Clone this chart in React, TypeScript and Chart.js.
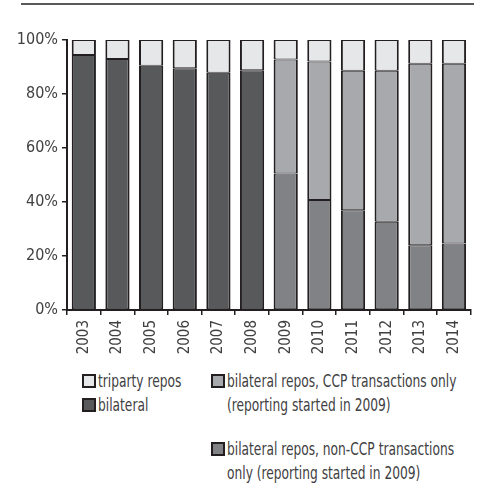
import React, { useEffect, useRef } from "react";
import { Chart, registerables } from "chart.js";

Chart.register(...registerables);

const years = ["2003", "2004", "2005", "2006", "2007", "2008", "2009", "2010", "2011", "2012", "2013", "2014"];
const nonCcp = [null, null, null, null, null, null, 50.6, 40.7, 36.9, 32.7, 24.0, 24.6];
const bilateral = [94.4, 93.0, 90.5, 89.5, 87.9, 88.8, null, null, null, null, null, null];
const ccp = [null, null, null, null, null, null, 42.2, 51.3, 51.7, 55.9, 67.2, 66.6];
const triparty = [5.6, 7.0, 9.5, 10.5, 12.1, 11.2, 7.2, 8.0, 11.4, 11.4, 8.8, 8.8];
const yTicks = [0, 20, 40, 60, 80, 100];

const FONT = '"DejaVu Sans Condensed", "Liberation Sans Narrow", "Noto Sans", sans-serif';
const DARK = "#231f20";
const TEXT = "#414042";

const legendItems = [
  { lines: ["triparty repos"], color: "#e6e7e8", left: 82, top: 374 },
  { lines: ["bilateral"], color: "#58595b", left: 82, top: 398 },
  { lines: ["bilateral repos, CCP transactions only", "(reporting started in 2009)"], color: "#a7a9ac", left: 211, top: 374 },
  { lines: ["bilateral repos, non-CCP transactions", "only (reporting started in 2009)"], color: "#808285", left: 211, top: 442 },
];

function LegendItem({ lines, color, left, top }: { lines: string[]; color: string; left: number; top: number }) {
  return (
    <>
      <div
        style={{
          position: "absolute",
          left,
          top,
          width: 10,
          height: 10,
          background: color,
          border: `2px solid ${DARK}`,
        }}
      />
      <div
        style={{
          position: "absolute",
          left: left + 16,
          top: top - 4,
          fontFamily: FONT,
          fontSize: 17,
          lineHeight: "23.5px",
          color: TEXT,
          whiteSpace: "nowrap",
          transform: "scaleX(0.8)",
          transformOrigin: "0 0",
        }}
      >
        {lines.map((l, i) => (
          <div key={i}>{l}</div>
        ))}
      </div>
    </>
  );
}

export default function App() {
  const ref = useRef<HTMLCanvasElement>(null);
  useEffect(() => {
    document.body.style.margin = "0";
    const ds = (label: string, data: (number | null)[], color: string) => ({
      label,
      data,
      backgroundColor: color,
      borderColor: DARK,
      borderWidth: { top: 1, bottom: 1, left: 2, right: 2 },
      borderSkipped: false as const,
      categoryPercentage: 1,
      barPercentage: 0.72,
    });
    const chart = new Chart(ref.current!, {
      type: "bar",
      data: {
        labels: years,
        datasets: [
          ds("bilateral repos, non-CCP transactions only (reporting started in 2009)", nonCcp, "#808285"),
          ds("bilateral", bilateral, "#58595b"),
          ds("bilateral repos, CCP transactions only (reporting started in 2009)", ccp, "#a7a9ac"),
          ds("triparty repos", triparty, "#e6e7e8"),
        ],
      },
      options: {
        animation: false,
        responsive: false,
        layout: { padding: { top: 40, right: 1, left: 0, bottom: 0 } },
        plugins: { legend: { display: false }, tooltip: { enabled: false } },
        scales: {
          x: {
            stacked: true,
            grid: { offset: true, drawOnChartArea: false, drawTicks: true, tickLength: 5, color: DARK, lineWidth: 1.5 },
            border: { display: true, color: DARK, width: 2 },
            ticks: {
              minRotation: 90,
              maxRotation: 90,
              padding: 5,
              color: TEXT,
              font: { family: FONT, size: 15 },
            },
            afterFit: (s: any) => {
              s.height = 50;
            },
          },
          y: {
            stacked: true,
            min: 0,
            max: 100,
            afterBuildTicks: (s: any) => {
              s.ticks = yTicks.map((v) => ({ value: v }));
            },
            grid: { drawOnChartArea: false, drawTicks: true, tickLength: 5, color: DARK, lineWidth: 1.5 },
            border: { display: true, color: DARK, width: 2 },
            ticks: {
              padding: 4,
              color: TEXT,
              font: { family: FONT, size: 16 },
              callback: (v: any) => `${v}%`,
            },
            afterFit: (s: any) => {
              s.width = 67;
            },
          },
        },
      },
    });
    return () => chart.destroy();
  }, []);

  return (
    <div style={{ position: "relative", width: 477, height: 491, background: "#fff" }}>
      <div style={{ position: "absolute", left: 21, top: 3, width: 453, height: 2, background: "#58595b" }} />
      <canvas ref={ref} width={477} height={360} style={{ position: "absolute", left: 0, top: 0 }} />
      {legendItems.map((it, i) => (
        <LegendItem key={i} lines={it.lines} color={it.color} left={it.left} top={it.top} />
      ))}
    </div>
  );
}
